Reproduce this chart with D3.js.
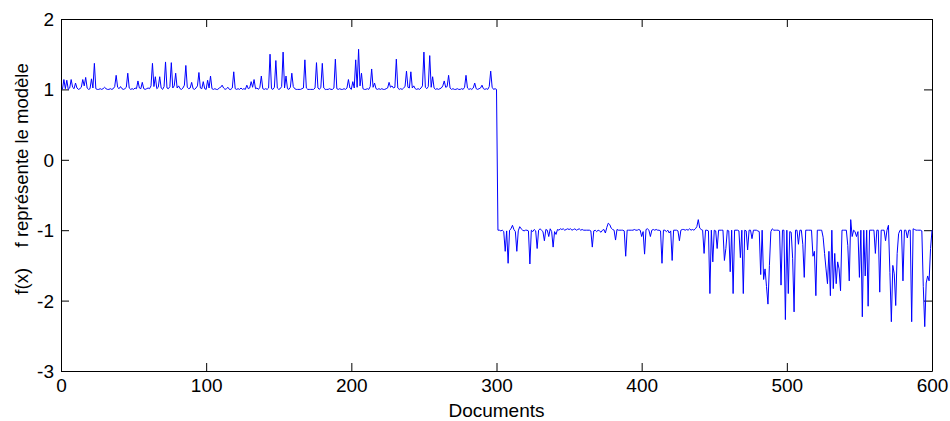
<!DOCTYPE html>
<html>
<head>
<meta charset="utf-8">
<script src="https://cdn.jsdelivr.net/npm/d3@7"></script>
<style>
  html, body { margin: 0; padding: 0; background: #fff; }
  svg { display: block; font-family: "Liberation Sans", Arial, sans-serif; }
</style>
</head>
<body>
<svg id="chart" width="950" height="421"></svg>
<script>
// ---- data ----
const xTicks = [0, 100, 200, 300, 400, 500, 600];
const yTicks = [-3, -2, -1, 0, 1, 2];
const xLabel = "Documents";
const yLabel = "f(x)    f représente le modèle";

// f(x) for documents 1..300 (model class +1)
const fPositive = [
  1.00,1.14,1.01,1.13,1.00,1.02,1.14,1.03,1.01,1.09,1.02,1.00,1.01,1.03,1.14,1.05,1.17,1.02,1.00,1.01,
  1.15,1.02,1.37,1.01,1.00,1.00,1.01,1.00,1.01,1.03,1.01,1.00,1.00,1.01,1.00,1.01,1.04,1.20,1.03,1.01,
  1.04,1.01,1.00,1.01,1.03,1.23,1.02,1.00,1.01,1.00,1.02,1.01,1.12,1.02,1.01,1.10,1.01,1.00,1.01,1.02,
  1.01,1.05,1.37,1.04,1.18,1.01,1.03,1.18,1.02,1.00,1.04,1.39,1.02,1.01,1.04,1.38,1.02,1.05,1.23,1.02,
  1.05,1.01,1.00,1.02,1.06,1.34,1.03,1.01,1.02,1.10,1.01,1.00,1.02,1.05,1.24,1.02,1.01,1.11,1.01,1.00,
  1.13,1.02,1.19,1.01,1.00,1.01,1.00,1.00,1.02,1.03,1.06,1.02,1.00,1.01,1.03,1.00,1.00,1.02,1.25,1.01,
  1.00,1.01,1.00,1.02,1.00,1.01,1.00,1.06,1.01,1.02,1.11,1.03,1.14,1.01,1.02,1.00,1.03,1.19,1.01,1.00,
  1.01,1.00,1.02,1.50,1.01,1.00,1.03,1.41,1.02,1.00,1.01,1.04,1.53,1.02,1.19,1.01,1.00,1.03,1.23,1.04,
  1.01,1.00,1.00,1.00,1.00,1.01,1.02,1.42,1.02,1.00,1.00,1.00,1.00,1.00,1.02,1.38,1.02,1.00,1.03,1.37,
  1.02,1.00,1.00,1.00,1.01,1.00,1.00,1.02,1.43,1.01,1.00,1.01,1.00,1.00,1.01,1.00,1.02,1.14,1.02,1.00,
  1.11,1.02,1.42,1.03,1.57,1.05,1.23,1.01,1.00,1.00,1.01,1.00,1.04,1.29,1.03,1.09,1.01,1.00,1.01,1.00,
  1.01,1.00,1.00,1.01,1.02,1.10,1.03,1.05,1.02,1.03,1.43,1.02,1.00,1.01,1.00,1.02,1.04,1.26,1.03,1.02,
  1.25,1.02,1.05,1.01,1.00,1.01,1.00,1.02,1.05,1.53,1.03,1.01,1.04,1.48,1.03,1.18,1.02,1.00,1.01,1.00,
  1.01,1.02,1.05,1.12,1.03,1.04,1.20,1.02,1.00,1.01,1.00,1.00,1.01,1.00,1.00,1.01,1.00,1.03,1.20,1.02,
  1.00,1.01,1.00,1.02,1.09,1.01,1.00,1.01,1.02,1.06,1.01,1.00,1.01,1.00,1.04,1.26,1.03,1.00,1.01,1.00
];

// f(x) for documents 301..600 (other class)
const fNegative = [
  -1.00,-1.00,-1.01,-1.00,-1.02,-1.30,-1.01,-1.47,-1.00,-0.98,-0.93,-0.99,-1.02,-1.30,-1.01,-0.95,-0.98,-1.00,-1.01,-1.00,
  -1.00,-1.01,-1.48,-1.00,-1.02,-0.99,-1.01,-1.26,-1.00,-0.98,-1.00,-1.02,-1.15,-0.99,-1.00,-1.09,-0.98,-1.02,-1.24,-1.02,
  -1.06,-0.99,-1.00,-0.98,-0.99,-0.98,-1.00,-0.99,-0.98,-0.99,-0.98,-1.00,-0.99,-0.98,-1.00,-0.99,-0.98,-1.00,-0.99,-1.00,
  -1.00,-1.00,-1.00,-1.00,-1.01,-1.24,-1.01,-1.00,-1.02,-1.00,-1.01,-1.03,-1.00,-0.99,-1.04,-0.96,-0.90,-0.92,-0.97,-0.99,
  -1.00,-1.14,-0.99,-1.00,-1.00,-1.00,-1.00,-1.01,-1.37,-1.00,-1.00,-1.00,-1.00,-1.00,-0.99,-1.00,-1.00,-0.99,-1.00,-1.09,
  -1.02,-1.34,-0.99,-0.98,-1.00,-1.09,-1.00,-0.99,-1.00,-0.99,-1.00,-1.00,-1.01,-1.47,-1.00,-1.00,-1.02,-1.00,-1.04,-1.01,
  -1.43,-1.00,-1.00,-1.00,-1.01,-1.15,-1.00,-0.99,-0.99,-1.00,-0.99,-1.00,-0.98,-1.00,-0.99,-1.00,-0.98,-0.95,-0.85,-0.97,
  -0.99,-1.00,-1.33,-1.00,-1.00,-1.01,-1.90,-1.00,-1.45,-1.00,-1.01,-1.26,-1.00,-1.00,-1.00,-1.00,-1.43,-1.26,-1.00,-1.01,
  -1.59,-1.00,-1.90,-1.00,-1.00,-1.00,-1.01,-1.39,-1.00,-1.90,-1.00,-1.01,-1.28,-1.00,-1.00,-1.12,-1.00,-1.00,-1.00,-1.01,
  -1.02,-1.63,-1.00,-1.70,-1.55,-1.80,-2.05,-1.50,-1.02,-0.98,-1.00,-1.00,-1.00,-1.00,-1.01,-1.78,-1.00,-1.00,-2.27,-1.00,
  -1.90,-1.02,-1.03,-1.40,-2.16,-1.00,-1.00,-1.20,-1.00,-1.00,-1.20,-1.67,-1.00,-1.00,-1.00,-1.00,-1.00,-1.37,-1.30,-1.93,
  -1.00,-1.00,-1.00,-1.00,-1.10,-1.33,-1.55,-1.76,-1.30,-1.93,-1.00,-1.83,-1.33,-1.76,-1.45,-1.55,-1.86,-1.00,-1.00,-1.00,
  -1.00,-1.22,-1.72,-0.85,-1.09,-1.00,-1.02,-1.09,-1.02,-1.67,-1.00,-2.23,-1.00,-1.65,-1.00,-2.08,-1.00,-1.00,-1.00,-1.00,
  -1.33,-1.00,-1.00,-1.88,-1.00,-1.00,-1.00,-1.15,-1.00,-0.93,-1.60,-2.30,-1.50,-1.62,-2.07,-1.33,-1.05,-1.00,-1.00,-1.72,
  -1.00,-1.00,-1.11,-1.00,-1.00,-2.30,-0.98,-0.99,-1.00,-1.00,-1.00,-1.00,-1.01,-1.80,-2.37,-1.75,-1.65,-1.72,-1.26,-1.00
];

// ---- chart ----
const values = fPositive.concat(fNegative);
const margin = { left: 61, top: 19, right: 18, bottom: 50 };
const W = 950, H = 421;
const plotW = W - margin.left - margin.right; // 871
const plotH = H - margin.top - margin.bottom; // 352

const svg = d3.select("#chart");
const g = svg.append("g").attr("transform", `translate(${margin.left},${margin.top})`);

const x = d3.scaleLinear().domain([0, 600]).range([0, plotW]);
const y = d3.scaleLinear().domain([-3, 2]).range([plotH, 0]);

const fmt = d => String(d);
const tickLen = 8;
const fontSize = 19;

// bottom axis
const xb = g.append("g").attr("transform", `translate(0,${plotH})`)
  .call(d3.axisBottom(x).tickValues(xTicks).tickSizeInner(-tickLen).tickSizeOuter(0).tickPadding(8).tickFormat(fmt));
// top axis
const xt = g.append("g")
  .call(d3.axisTop(x).tickValues(xTicks).tickSizeInner(-tickLen).tickSizeOuter(0).tickFormat(""));
// left axis
const yl = g.append("g")
  .call(d3.axisLeft(y).tickValues(yTicks).tickSizeInner(-tickLen).tickSizeOuter(0).tickPadding(7).tickFormat(fmt));
// right axis
const yr = g.append("g").attr("transform", `translate(${plotW},0)`)
  .call(d3.axisRight(y).tickValues(yTicks).tickSizeInner(-tickLen).tickSizeOuter(0).tickFormat(""));

[xb, xt, yl, yr].forEach(a => {
  a.selectAll("path.domain").attr("stroke", "#000").attr("stroke-width", 1);
  a.selectAll(".tick line").attr("stroke", "#000").attr("stroke-width", 1);
  a.selectAll("text").attr("fill", "#000").style("font-size", fontSize + "px")
    .style("font-family", '"Liberation Sans", Arial, sans-serif');
});
yl.selectAll("text").attr("dy", "0.34em");

// data line
const line = d3.line()
  .x((d, i) => x(i + 1))
  .y(d => y(d));

g.append("path")
  .datum(values)
  .attr("fill", "none")
  .attr("stroke", "#0000ff")
  .attr("stroke-width", 1)
  .attr("stroke-linejoin", "miter")
  .attr("d", line);

// axis labels
svg.append("text")
  .attr("x", margin.left + plotW / 2)
  .attr("y", 417)
  .attr("text-anchor", "middle")
  .style("font-size", fontSize + "px")
  .attr("fill", "#000")
  .text(xLabel);

svg.append("text")
  .attr("transform", `translate(28,179) rotate(-90)`)
  .attr("text-anchor", "middle")
  .style("font-size", "18.5px")
  .style("white-space", "pre")
  .attr("xml:space", "preserve")
  .attr("fill", "#000")
  .text(yLabel);
</script>
</body>
</html>
